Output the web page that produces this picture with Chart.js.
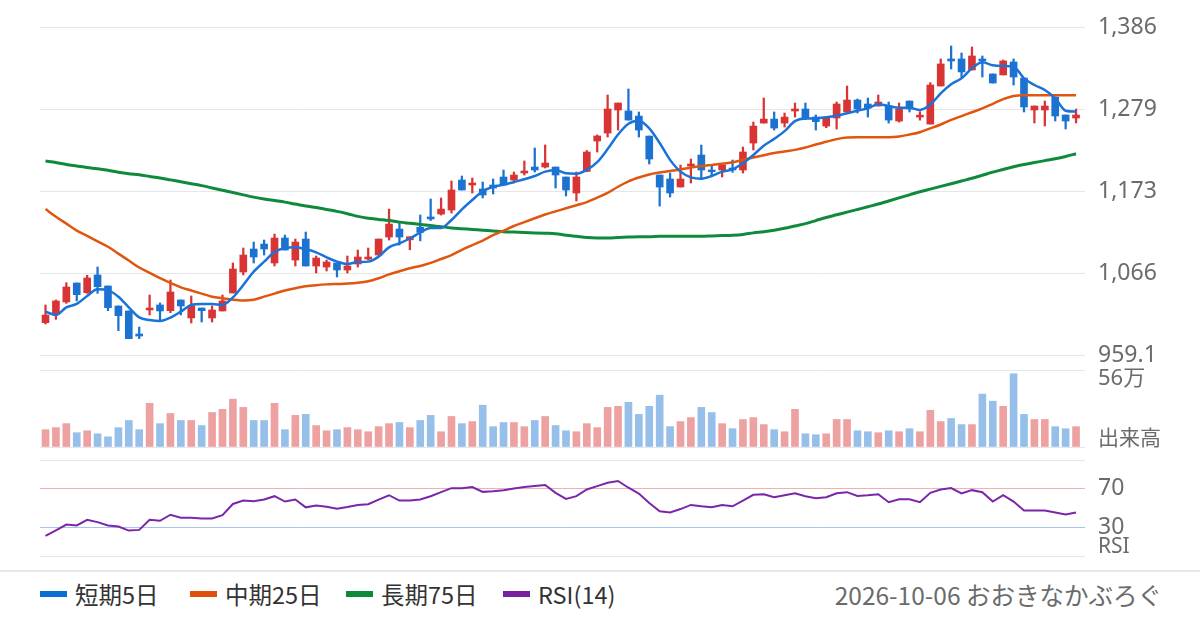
<!DOCTYPE html>
<html><head><meta charset="utf-8">
<script src="https://cdn.jsdelivr.net/npm/chart.js@4/dist/chart.umd.min.js"></script>
<style>
html,body{margin:0;padding:0;background:#fff;}
#wrap{position:relative;width:1200px;height:630px;overflow:hidden;font-family:'Noto Sans CJK JP','Noto Sans',sans-serif;}
canvas{position:absolute;left:0;}
#sep{position:absolute;left:0;top:570px;width:1200px;height:2px;background:#e8e8ec;}
.item{position:absolute;top:577px;height:34px;display:flex;align-items:center;font-size:23.5px;color:#333;white-space:nowrap;}
.sw{width:27px;height:6px;margin-right:8px;}
#credit{position:absolute;right:38px;top:577px;height:34px;display:flex;align-items:center;font-size:24.5px;color:#6b6b6b;white-space:nowrap;}
</style></head>
<body><div id="wrap">
<canvas id="cPrice" width="1200" height="380" style="top:0"></canvas>
<canvas id="cVol" width="1200" height="120" style="top:345px"></canvas>
<canvas id="cRsi" width="1200" height="135" style="top:440px"></canvas>
<div id="sep"></div>
<div class="item" style="left:40px"><span class="sw" style="background:#0a6ed1"></span>短期5日</div>
<div class="item" style="left:190px"><span class="sw" style="background:#dd4f0b"></span>中期25日</div>
<div class="item" style="left:346px"><span class="sw" style="background:#0b8a3a"></span>長期75日</div>
<div class="item" style="left:503px"><span class="sw" style="background:#7b1fa2"></span>RSI(14)</div>
<div id="credit">2026-10-06 おおきなかぶろぐ</div>
</div>
<script>
const openP = [1001.2,1012.5,1028.1,1052.8,1040.2,1063.2,1048.9,1022.9,1016.4,986.4,1017.7,1024.2,1016.8,1030.7,1007.3,1020.2,1007.3,1016.4,1039.8,1067.1,1097.0,1103.5,1078.8,1111.3,1082.7,1110.0,1074.9,1073.6,1078.8,1069.7,1077.5,1084.0,1089.2,1112.6,1123.0,1109.0,1125.2,1138.7,1142.5,1147.7,1186.8,1180.3,1175.1,1180.3,1190.7,1186.8,1195.9,1203.7,1203.7,1203.7,1190.7,1169.9,1198.0,1237.5,1247.9,1277.9,1276.6,1270.0,1244.0,1193.3,1188.1,1177.7,1205.0,1219.3,1199.8,1199.8,1202.4,1199.8,1234.9,1260.9,1266.1,1260.9,1276.6,1279.2,1268.8,1257.0,1267.5,1275.3,1290.9,1285.7,1283.1,1283.1,1263.5,1289.6,1268.7,1259.6,1309.1,1344.3,1344.3,1330.0,1344.3,1324.8,1323.5,1340.4,1319.5,1277.9,1277.9,1294.8,1271.4,1267.5];
const highP = [1024.2,1030.7,1053.2,1052.8,1062.8,1073.6,1048.9,1022.9,1016.4,995.5,1037.2,1026.8,1056.7,1030.7,1035.9,1020.2,1022.9,1037.2,1078.8,1098.3,1106.1,1108.7,1116.5,1115.2,1110.0,1119.1,1087.9,1082.7,1078.8,1087.9,1095.7,1098.3,1110.0,1149.0,1132.1,1112.9,1141.3,1162.1,1163.4,1185.5,1192.0,1189.4,1184.2,1188.1,1199.8,1197.2,1211.6,1228.5,1232.4,1203.7,1190.7,1197.2,1225.2,1245.4,1297.4,1287.0,1305.2,1275.3,1244.0,1193.3,1195.9,1206.3,1214.1,1232.3,1205.0,1207.6,1212.8,1229.7,1262.2,1293.5,1275.3,1274.0,1287.0,1287.0,1271.4,1268.7,1288.3,1309.1,1292.2,1293.5,1297.4,1288.3,1287.0,1289.6,1275.8,1313.5,1344.3,1361.2,1352.1,1359.9,1348.2,1324.8,1343.0,1344.3,1319.5,1283.1,1289.6,1294.8,1271.4,1279.2];
const lowP = [999.4,1005.5,1026.3,1029.4,1039.3,1039.3,1016.8,990.8,980.4,980.4,1011.2,1003.3,1014.2,1011.2,1000.8,1002.0,1002.0,1016.4,1039.8,1063.2,1078.8,1089.2,1074.9,1095.7,1074.9,1074.9,1065.8,1068.4,1060.6,1065.8,1073.6,1082.7,1089.2,1108.7,1102.2,1096.0,1107.6,1134.1,1141.2,1143.8,1173.8,1169.9,1163.4,1168.6,1180.3,1182.9,1193.3,1197.2,1202.4,1176.4,1166.0,1159.5,1197.5,1223.2,1242.7,1251.8,1264.8,1242.7,1207.6,1152.9,1164.7,1177.7,1182.9,1188.1,1191.1,1190.7,1196.8,1195.9,1225.8,1260.9,1251.8,1255.7,1268.7,1265.3,1251.8,1254.9,1253.1,1275.3,1274.0,1268.7,1283.1,1260.9,1262.2,1275.3,1264.7,1259.6,1309.1,1331.3,1320.8,1330.0,1320.8,1313.0,1323.5,1310.4,1275.3,1261.0,1257.1,1263.6,1253.2,1261.0];
const closeP = [1011.1,1029.4,1047.6,1037.6,1059.3,1048.0,1020.7,1010.3,980.4,983.8,1020.2,1016.4,1041.1,1022.9,1023.3,1016.8,1017.7,1029.4,1071.0,1089.2,1086.6,1097.0,1111.3,1095.7,1106.1,1074.9,1085.3,1080.1,1069.7,1074.9,1086.6,1086.6,1110.0,1129.5,1112.6,1112.9,1118.7,1136.1,1149.0,1173.8,1173.8,1182.9,1167.3,1176.4,1180.3,1193.3,1198.5,1199.8,1208.9,1193.3,1173.8,1190.7,1223.2,1244.1,1279.2,1287.0,1264.8,1251.8,1214.1,1177.7,1169.9,1188.1,1207.6,1199.8,1197.6,1206.3,1199.8,1223.2,1257.0,1266.1,1254.4,1268.7,1279.2,1267.5,1262.7,1268.7,1285.7,1290.9,1279.2,1280.5,1288.3,1264.8,1279.2,1279.2,1271.2,1310.4,1337.8,1341.7,1327.4,1348.2,1341.7,1313.0,1341.7,1320.8,1281.8,1283.1,1283.1,1270.1,1263.6,1271.4];
const volume = [12.6,14.1,17.0,10.4,11.8,9.6,7.4,14.1,19.3,12.6,31.8,17.0,24.4,19.3,19.3,15.6,25.1,27.4,34.8,28.8,19.3,19.3,31.8,12.6,23.0,23.7,15.6,11.8,12.6,14.1,12.6,11.1,14.8,17.0,17.8,14.1,19.3,23.0,11.1,22.2,17.0,18.5,30.4,14.8,17.8,17.8,14.8,19.3,22.2,15.6,11.8,11.1,17.0,14.1,28.8,29.6,32.5,23.7,29.6,37.7,14.8,18.5,21.4,28.8,25.1,17.0,13.3,20.0,21.4,16.3,12.6,11.1,27.4,9.6,8.9,9.6,20.0,20.0,11.8,11.1,10.4,11.8,11.1,13.3,11.1,26.7,18.5,20.7,16.3,16.3,38.5,33.3,29.6,53.3,23.7,20.0,20.0,14.8,13.3,14.8];
const ma5 = [1015.5,1011.2,1021.1,1025.5,1035.9,1044.5,1043.2,1035.0,1021.1,1008.1,1004.6,1003.3,1007.7,1015.5,1024.2,1025.5,1025.5,1024.2,1034.0,1050.2,1067.5,1080.5,1093.0,1098.3,1099.2,1096.6,1092.7,1086.2,1080.6,1077.5,1080.1,1080.6,1087.1,1099.2,1104.4,1110.7,1118.5,1124.4,1124.5,1134.8,1148.6,1160.8,1172.1,1178.1,1180.7,1184.2,1187.7,1192.0,1197.7,1199.8,1195.5,1195.0,1200.0,1210.0,1227.0,1246.0,1260.0,1264.0,1254.0,1235.0,1213.0,1197.7,1190.3,1188.5,1192.0,1197.7,1200.7,1208.5,1219.4,1231.5,1240.3,1250.4,1263.4,1266.8,1267.0,1268.4,1270.5,1273.6,1277.0,1280.1,1285.3,1283.1,1280.9,1280.9,1277.9,1285.0,1299.6,1311.5,1319.1,1332.1,1339.9,1336.0,1335.1,1334.3,1319.1,1310.4,1303.9,1293.1,1277.0,1275.7];
const ma25 = [1149,1139,1130,1121,1114,1107,1100,1091,1082,1073,1066,1059,1053,1047,1043,1039,1035,1033,1031,1030,1031,1035,1039,1043,1046,1048.5,1050,1051,1051.5,1052,1053,1055,1059,1064,1068,1072,1075,1079,1084,1089,1096,1102,1108,1115,1121,1127,1132,1137,1142,1146,1150,1154,1158,1164,1170,1178,1185,1190,1194,1196.5,1198.5,1200.5,1203,1205,1206.5,1208,1210,1213,1216,1219,1222,1224,1226,1229,1233,1236.5,1240,1242,1242.5,1242.5,1242.5,1242.5,1243.5,1246,1249,1254,1259,1265,1270,1275,1280,1286,1292,1296,1297,1297,1297,1297,1297,1297];
const ma75 = [1211.5,1209.5,1207,1205,1203,1201.5,1199.5,1197,1195,1193.5,1191.5,1189.5,1187,1184.5,1182,1179.5,1176.5,1173.5,1170.5,1167.5,1164.5,1162,1160,1158,1155.5,1153,1151,1148.5,1146,1143,1139.5,1137,1135.5,1134,1132,1130.5,1129,1127.5,1126,1124.5,1123.5,1122.5,1121.5,1120.5,1119.5,1119,1118.5,1118,1117.5,1117,1115,1113.5,1112,1111.5,1111.5,1112,1112.5,1113,1113,1113.5,1113.5,1113.5,1113.5,1113.5,1114,1114.5,1115,1116,1118,1119.5,1121.5,1124,1127,1130,1134,1138,1141.5,1145,1148.5,1152,1155.5,1159.5,1163.5,1167.5,1171.5,1175,1178.5,1182,1185.5,1189,1193,1197,1200.5,1204,1207,1209.5,1212,1214.5,1217.5,1221];
const rsi = [20.9,26.8,32.8,31.8,37.7,35.3,31.8,30.7,26.5,27.2,37.7,36.7,43.0,39.8,39.8,39.1,39.1,42.6,54.2,57.7,57.0,58.8,62.3,56.7,58.8,50.7,52.5,51.4,49.3,51.1,53.2,53.9,58.8,63.3,57.7,57.7,58.8,62.3,66.5,70.7,70.7,71.8,66.8,67.5,68.6,70.4,71.8,72.8,73.9,65.8,59.5,62.3,69.3,72.8,76.3,78.1,71.1,65.1,55.3,46.5,45.4,48.9,53.2,51.8,50.7,53.2,51.8,57.7,63.7,64.4,61.2,63.3,65.4,62.3,60.2,61.2,65.4,66.5,62.6,63.3,64.4,56.0,59.1,59.1,56.0,65.8,69.3,70.7,65.1,68.6,66.5,56.7,63.3,56.7,47.5,47.5,47.5,45.4,43.3,45.4];
const priceTickValues = [959.1,1065.8,1172.5,1279.2,1385.9];
const priceTickLabels = ['959.1','1,066','1,173','1,279','1,386'];
const volumeTickLabels = ['56万','出来高'];
const rsiTickLabels = ['70','30','RSI'];

const UP='#d93434', DOWN='#1c72d0', UPV='#eda1a1', DOWNV='#96bfe9';
const GRID='#e6e6ea', TXT='#6b6b6b';
const FAM="'Noto Sans','Noto Sans CJK JP',sans-serif";
const NUMFONT={family:FAM,size:23};
const idx = openP.map((_,i)=>i);
const isUp = idx.map(i=>closeP[i]>=openP[i]);
const xScale = {type:'linear',min:-0.53,max:99.86,display:false,offset:false};
const common = {responsive:false,animation:false,events:[],plugins:{legend:{display:false},tooltip:{enabled:false}}};
const fitRight = a=>{a.width=115;a.paddingTop=0;a.paddingBottom=0;};

new Chart(document.getElementById('cPrice'),{
  data:{datasets:[
    {type:'line',data:idx.map(i=>({x:i,y:ma5[i]})),borderColor:'#1a73d8',borderWidth:2.5,pointRadius:0,cubicInterpolationMode:'monotone',order:1},
    {type:'line',data:idx.map(i=>({x:i,y:ma25[i]})),borderColor:'#e0560f',borderWidth:2.5,pointRadius:0,cubicInterpolationMode:'monotone',order:2},
    {type:'line',data:idx.map(i=>({x:i,y:ma75[i]})),borderColor:'#0f8a3c',borderWidth:3,pointRadius:0,cubicInterpolationMode:'monotone',order:3},
    {type:'bar',data:idx.map(i=>({x:i,y:[openP[i],closeP[i]]})),backgroundColor:idx.map(i=>isUp[i]?UP:DOWN),barThickness:7,grouped:false,order:5},
    {type:'bar',data:idx.map(i=>({x:i,y:[lowP[i],highP[i]]})),backgroundColor:idx.map(i=>isUp[i]?UP:DOWN),barThickness:1.6,grouped:false,order:6}
  ]},
  options:{...common,layout:{padding:{left:40,top:27,bottom:25,right:0}},
    scales:{x:xScale,
      y:{position:'right',min:959.1,max:1385.9,afterFit:fitRight,
        afterBuildTicks:a=>{a.ticks=priceTickValues.map(v=>({value:v}));},
        ticks:{autoSkip:false,padding:13,color:TXT,font:NUMFONT,callback:(v,i)=>priceTickLabels[i]},
        grid:{color:GRID,drawTicks:false,lineWidth:1},border:{display:false}}}}
});

new Chart(document.getElementById('cVol'),{
  data:{datasets:[
    {type:'bar',data:idx.map(i=>({x:i,y:volume[i]})),backgroundColor:idx.map(i=>isUp[i]?UPV:DOWNV),barThickness:7,grouped:false}
  ]},
  options:{...common,layout:{padding:{left:40,top:25,bottom:18,right:0}},
    scales:{x:xScale,
      y:{position:'right',min:0,max:56,afterFit:fitRight,
        afterBuildTicks:a=>{a.ticks=[{value:0},{value:6.1},{value:49.5},{value:56}];},
        ticks:{autoSkip:false,padding:13,color:TXT,
          font:c=>({family:FAM,size:(c.tick&&c.tick.value===49.5)?22:21}),
          callback:(v)=>v===49.5?volumeTickLabels[0]:(v===6.1?volumeTickLabels[1]:'')},
        grid:{color:c=>(c.tick&&(c.tick.value===0||c.tick.value===56))?GRID:'rgba(0,0,0,0)',drawTicks:false,lineWidth:1},border:{display:false}}}}
});

new Chart(document.getElementById('cRsi'),{
  data:{datasets:[
    {type:'line',data:idx.map(i=>({x:i,y:rsi[i]})),borderColor:'#7b25a8',borderWidth:2,pointRadius:0,tension:0}
  ]},
  options:{...common,layout:{padding:{left:40,top:20,bottom:19,right:0}},
    scales:{x:xScale,
      y:{position:'right',min:0,max:100,afterFit:fitRight,
        afterBuildTicks:a=>{a.ticks=[{value:0},{value:8.9},{value:30},{value:70},{value:100}];},
        ticks:{autoSkip:false,padding:13,color:TXT,
          font:c=>({family:FAM,size:(c.tick&&c.tick.value===8.9)?21:23}),
          callback:(v)=>v===70?rsiTickLabels[0]:(v===30?rsiTickLabels[1]:(v===8.9?rsiTickLabels[2]:''))},
        grid:{color:c=>{const v=c.tick&&c.tick.value;return v===70?'#f2b0b0':v===30?'#a9c3ea':(v===0||v===100)?GRID:'rgba(0,0,0,0)';},drawTicks:false,lineWidth:1},border:{display:false}}}}
});
</script>
</body></html>
